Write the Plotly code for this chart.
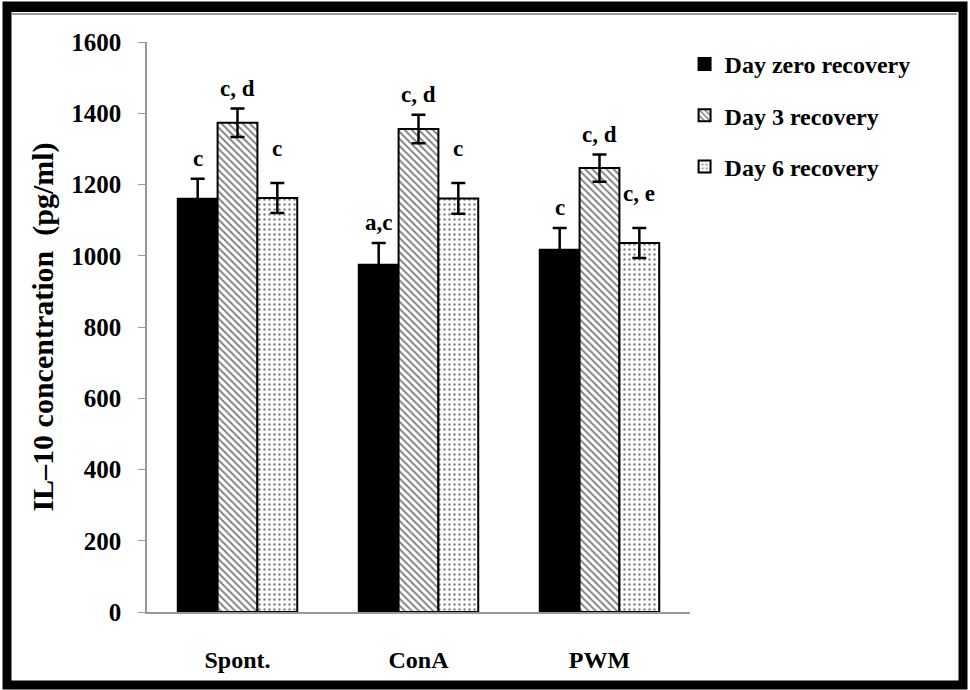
import plotly.graph_objects as go

# data
groups = ["Spont.", "ConA", "PWM"]
series_names = ["Day zero recovery", "Day 3 recovery", "Day 6 recovery"]

day0 = [1160, 975, 1017]
day0_err = [56, 61, 61]
day3 = [1373, 1356, 1246]
day3_err = [40, 40, 38]
day6 = [1162, 1161, 1036]
day6_err = [42, 43, 42]

day0_labels = ["c", "a,c", "c"]
day3_labels = ["c, d", "c, d", "c, d"]
day6_labels = ["c", "c", "c, e"]

yticks = [0, 200, 400, 600, 800, 1000, 1200, 1400, 1600]

# styling
FONT = "Liberation Serif"
W, H = 970, 690
ML, MR, MT, MB = 147, 280, 42, 78
BARGAP = 0.34
label_pad = [6, 6, 20]

patterns = [
    dict(shape=""),
    dict(shape="\\", size=5, solidity=0.38, fgcolor="black", bgcolor="white"),
    dict(shape=".", size=5, solidity=0.18, fgcolor="black", bgcolor="white"),
]
colors = ["black", "white", "white"]

values = [day0, day3, day6]
errors = [day0_err, day3_err, day6_err]
labels = [day0_labels, day3_labels, day6_labels]
xpos = list(range(len(groups)))

fig = go.Figure()
for i in range(3):
    fig.add_trace(go.Bar(
        x=xpos, y=values[i], name=series_names[i],
        legendgroup=series_names[i],
        marker=dict(color=colors[i], pattern=patterns[i],
                    line=dict(color="black", width=2)),
        error_y=dict(type="data", array=errors[i], color="black",
                     thickness=2.5, width=7),
    ))

# letters above the error bars, placed from the bar layout
bw = (1 - BARGAP) / 3
for i in range(3):
    for j, g in enumerate(groups):
        fig.add_annotation(
            x=j + (i - 1) * bw, y=values[i][j] + errors[i][j],
            text="<b>%s</b>" % labels[i][j], showarrow=False,
            yanchor="bottom", yshift=label_pad[i],
            font=dict(family=FONT, size=23, color="black"),
        )

# frame round the whole picture
def px(x):
    return (x - ML) / (W - ML - MR)

def py(y):
    return (H - MB - y) / (H - MT - MB)

fig.add_shape(type="rect", xref="paper", yref="paper",
              x0=px(7), x1=px(963), y0=py(6), y1=py(685),
              line=dict(color="black", width=9), layer="above")
fig.add_shape(type="rect", xref="paper", yref="paper",
              x0=px(3), x1=px(967), y0=py(2), y1=py(12),
              fillcolor="black", line=dict(width=0), layer="above")
fig.add_shape(type="line", xref="paper", yref="paper",
              x0=px(12), x1=px(957), y0=py(14), y1=py(14),
              line=dict(color="#999999", width=2))

fig.update_layout(
    width=W, height=H,
    margin=dict(l=ML, r=MR, t=MT, b=MB),
    paper_bgcolor="white", plot_bgcolor="white",
    barmode="group", bargap=BARGAP, bargroupgap=0,
    font=dict(family=FONT, color="black"),
    legend=dict(x=0.99, y=1.0, xanchor="left", yanchor="top",
                font=dict(family=FONT, size=24, weight="bold"),
                tracegroupgap=17, itemwidth=30),
)

fig.update_xaxes(
    range=[-0.5, 2.5], tickvals=xpos, ticktext=groups,
    showline=True, linecolor="#999999", linewidth=2,
    ticks="", ticklabelstandoff=25,
    tickfont=dict(family=FONT, size=24, weight="bold"),
)
fig.update_yaxes(
    range=[0, 1600], tickvals=yticks, showgrid=False, zeroline=False,
    showline=True, linecolor="#999999", linewidth=1.5,
    ticks="outside", ticklen=7, tickcolor="#999999",
    ticklabelstandoff=12,
    tickfont=dict(family=FONT, size=25, weight="bold"),
    title=dict(text="IL\u201310 concentration&nbsp; (pg/ml)", standoff=9,
               font=dict(family=FONT, size=30, weight="bold")),
)

# page margin off so the figure fills the window
fig.write_html("out.html", config={"displayModeBar": False},
               post_script="document.body.style.margin='0';")
